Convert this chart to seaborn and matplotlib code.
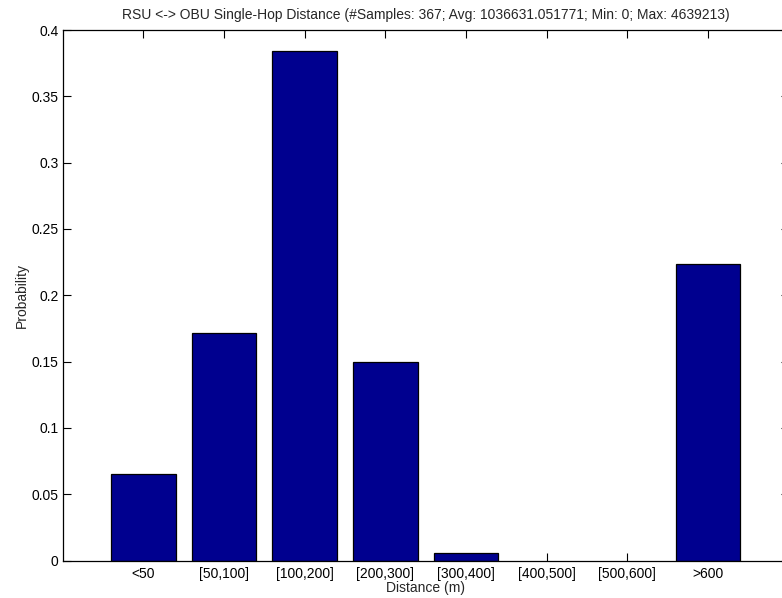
import matplotlib
matplotlib.use("Agg")
import matplotlib.pyplot as plt
import seaborn as sns
import pandas as pd

categories = ["<50", "[50,100]", "[100,200]", "[200,300]", "[300,400]",
              "[400,500]", "[500,600]", ">600"]
counts = [24, 63, 141, 55, 2, 0, 0, 82]
n_samples = 367
probabilities = [c / n_samples for c in counts]

title = "RSU <-> OBU Single-Hop Distance (#Samples: 367; Avg: 1036631.051771; Min: 0; Max: 4639213)"

df = pd.DataFrame({"Distance": categories, "Probability": probabilities})

sns.set_theme(style="ticks")
plt.rcParams["font.family"] = ["Liberation Sans", "DejaVu Sans"]

fig = plt.figure(figsize=(7.82, 5.98), dpi=100)
W, H = 782, 598
left, right, top, bottom = 62.6, 788.6, 30.0, 560.5
ax = fig.add_axes([left / W, 1 - bottom / H, (right - left) / W, (bottom - top) / H])

sns.barplot(data=df, x="Distance", y="Probability", order=categories,
            color="#00008F", saturation=1, width=0.8,
            edgecolor="black", linewidth=0.9, ax=ax)

# empty bins leave no visible outline on the baseline
for patch, p in zip(ax.patches, probabilities):
    if p == 0:
        patch.set_linewidth(0)

ax.set_xlim(-1, 8)
ax.set_ylim(0, 0.4)
ax.set_yticks([0, 0.05, 0.1, 0.15, 0.2, 0.25, 0.3, 0.35, 0.4])
ax.set_yticklabels(["0", "0.05", "0.1", "0.15", "0.2", "0.25", "0.3", "0.35", "0.4"])

for s in ax.spines.values():
    s.set_visible(True)
    s.set_color("black")
    s.set_linewidth(0.9)

ax.tick_params(axis="both", direction="in", length=6, width=0.8, color="black",
               labelsize=10, labelcolor="black", top=True, right=True)
ax.tick_params(axis="x", pad=5)
ax.tick_params(axis="y", pad=3)

ax.set_title(title, fontsize=10, pad=8)
ax.set_xlabel("Distance (m)", fontsize=10, labelpad=0)
ax.set_ylabel("Probability", fontsize=10, labelpad=2)

fig.savefig("out.png", dpi=100)
